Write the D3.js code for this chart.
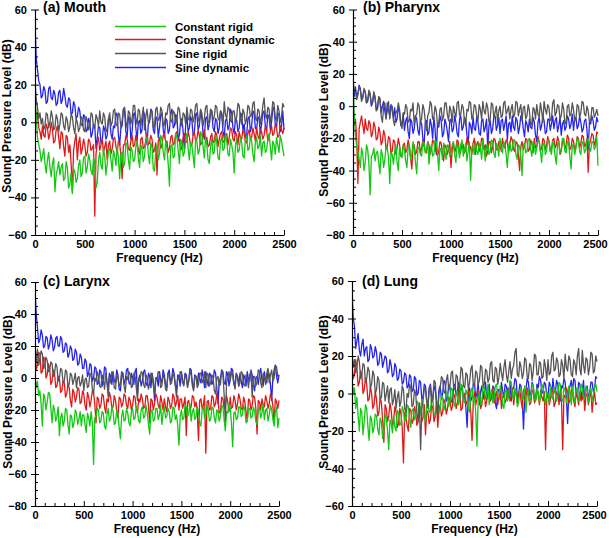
<!DOCTYPE html>
<html>
<head>
<meta charset="utf-8">
<script src="https://cdn.jsdelivr.net/npm/d3@7"></script>
<style>
  html, body { margin: 0; padding: 0; background: #fff; }
  svg { display: block; }
  text { font-family: "Liberation Sans", Arial, sans-serif; font-weight: bold; fill: #000; }
</style>
</head>
<body>
<svg id="chart" width="609" height="538"></svg>
<script>
// ---------------- DATA ----------------
const freqs = [
  0,12.5,25,37.5,50,62.5,75,87.5,100,112.5,125,137.5,150,162.5,175,187.5,200,212.5,225,237.5,
  250,262.5,275,287.5,300,312.5,325,337.5,350,362.5,375,387.5,400,412.5,425,437.5,450,462.5,475,487.5,
  500,512.5,525,537.5,550,562.5,575,587.5,600,612.5,625,637.5,650,662.5,675,687.5,700,712.5,725,737.5,
  750,762.5,775,787.5,800,812.5,825,837.5,850,862.5,875,887.5,900,912.5,925,937.5,950,962.5,975,987.5,
  1000,1012.5,1025,1037.5,1050,1062.5,1075,1087.5,1100,1112.5,1125,1137.5,1150,1162.5,1175,1187.5,1200,1212.5,1225,1237.5,
  1250,1262.5,1275,1287.5,1300,1312.5,1325,1337.5,1350,1362.5,1375,1387.5,1400,1412.5,1425,1437.5,1450,1462.5,1475,1487.5,
  1500,1512.5,1525,1537.5,1550,1562.5,1575,1587.5,1600,1612.5,1625,1637.5,1650,1662.5,1675,1687.5,1700,1712.5,1725,1737.5,
  1750,1762.5,1775,1787.5,1800,1812.5,1825,1837.5,1850,1862.5,1875,1887.5,1900,1912.5,1925,1937.5,1950,1962.5,1975,1987.5,
  2000,2012.5,2025,2037.5,2050,2062.5,2075,2087.5,2100,2112.5,2125,2137.5,2150,2162.5,2175,2187.5,2200,2212.5,2225,2237.5,
  2250,2262.5,2275,2287.5,2300,2312.5,2325,2337.5,2350,2362.5,2375,2387.5,2400,2412.5,2425,2437.5,2450,2462.5,2475,2487.5,
  2500];

const seriesNames = ["Constant rigid", "Constant dynamic", "Sine rigid", "Sine dynamic"];
const xTickValues = [0, 500, 1000, 1500, 2000, 2500];
const yTicksSym = [-60, -40, -20, 0, 20, 40, 60];
const yTicksLow = [-80, -60, -40, -20, 0, 20, 40, 60];

// (a) Mouth
const mouthConstRigid = [
  15,2,-8,-12,-15,-21,-18,-14,-22,-27,-20,-16,-24,-29,-22,-19,-37,-28,-25,-21,
  -28,-24,-22,-31,-30,-21,-24,-35,-33,-27,-38,-25,-26,-32,-30,-23,-20,-29,-27,-19,
  -18,-27,-24,-17,-20,-26,-28,-19,-22,-35,-32,-20,-16,-23,-25,-14,-18,-28,-22,-15,
  -14,-20,-26,-15,-18,-23,-13,-19,-30,-17,-16,-24,-22,-11,-12,-20,-25,-13,-15,-21,
  -20,-13,-10,-19,-24,-12,-14,-21,-18,-9,-8,-17,-22,-11,-13,-25,-26,-15,-12,-20,
  -17,-7,-9,-16,-20,-10,-14,-22,-34,-13,-12,-19,-18,-6,-8,-15,-22,-9,-11,-18,
  -16,-9,-6,-14,-20,-11,-12,-18,-24,-9,-10,-17,-15,-5,-7,-13,-19,-8,-12,-20,
  -22,-13,-9,-17,-16,-7,-11,-19,-20,-10,-8,-15,-14,-6,-10,-17,-18,-9,-12,-16,
  -27,-12,-9,-16,-15,-8,-11,-18,-19,-9,-7,-15,-14,-8,-10,-17,-21,-11,-8,-14,
  -13,-7,-18,-11,-10,-16,-15,-9,-6,-13,-20,-10,-12,-17,-8,-12,-16,-7,-10,-14,
  -18];
const mouthConstDyn = [
  12,0,5,-3,-5,-9,-2,-7,-8,-1,-3,-9,-6,0,-4,-11,-10,-4,-2,-8,
  -14,-5,-6,-13,-18,-7,-8,-16,-12,-22,-37,-15,-10,-6,-20,-11,-8,-17,-14,-9,
  -12,-18,-16,-9,-10,-15,-14,-12,-50,-17,-11,-8,-15,-12,-9,-16,-13,-10,-20,-12,
  -10,-17,-14,-9,-8,-13,-16,-10,-11,-18,-30,-12,-12,-7,-9,-14,-15,-10,-7,-13,
  -12,-7,-10,-15,-17,-9,-8,-14,-13,-10,-6,-12,-11,-7,-9,-16,-15,-11,-28,-10,
  -8,-14,-12,-7,-6,-11,-10,-16,-14,-8,-7,-12,-11,-6,-5,-10,-9,-15,-13,-8,
  -6,-11,-10,-5,-8,-13,-12,-7,-5,-10,-9,-4,-7,-12,-11,-6,-4,-10,-8,-13,
  -12,-8,-6,-11,-10,-5,-7,-13,-9,-6,-5,-10,-11,-7,-6,-12,-8,-3,-4,-9,
  -10,-5,-7,-12,-5,-8,-9,-4,-6,-10,-11,-6,-4,-9,-8,-3,-6,-10,-3,-7,
  -9,-4,-5,-9,-7,-2,-4,-10,-8,-5,-2,-7,-6,-1,-3,-8,-7,-2,-4,-6,
  -3];
const mouthSineRigid = [
  22,12,8,2,5,-1,2,-4,-2,5,4,-3,0,6,3,-4,-3,4,2,-5,
  -1,5,4,-2,-4,3,1,-5,-2,4,3,-3,-6,2,0,-5,-3,3,2,-4,
  -5,3,1,-4,-2,5,4,-3,-3,4,2,-2,6,0,-1,5,3,-5,-4,2,
  5,-2,0,6,7,-1,-2,5,4,-3,1,7,8,0,-3,6,5,-1,2,9,
  9,2,-1,7,6,-2,3,8,-4,3,7,0,1,6,5,-3,-2,7,8,1,
  2,8,6,-2,-1,5,4,9,10,1,0,6,5,-1,2,8,7,0,-2,5,
  4,-1,8,2,1,7,6,0,3,9,10,2,0,7,5,-2,2,8,9,1,
  -1,7,6,1,3,9,8,2,1,6,5,-2,11,4,2,8,7,1,0,6,
  6,0,3,10,9,2,-1,7,5,-1,2,9,8,3,4,10,11,2,1,7,
  6,-1,3,9,13,4,2,8,7,0,4,11,10,2,1,9,6,0,3,10,
  8];
const mouthSineDyn = [
  52,34,28,22,20,13,14,19,17,10,11,18,19,13,12,17,15,9,10,16,
  17,10,12,18,14,9,8,13,12,4,5,11,9,2,3,8,6,-1,-2,4,
  3,-5,-4,2,0,-8,-6,-1,-2,-14,-8,-2,-3,-11,-10,-2,-4,-9,-7,1,
  2,-6,-9,-2,-3,5,4,-7,-12,-3,-2,7,6,-5,-8,3,2,-9,-5,4,
  5,-3,-10,0,1,-6,-4,6,4,-5,-12,-1,0,7,6,-4,-6,3,2,-8,
  -3,4,5,-4,-8,2,1,-6,-4,5,7,-3,-2,4,3,-9,-7,1,2,-5,
  -15,-2,4,-5,-3,3,1,-7,-6,4,5,-4,-2,6,2,-6,-9,2,3,-4,
  -1,5,6,-3,-5,2,1,-6,-3,6,4,-5,-8,1,2,-4,-2,7,5,-3,
  -6,2,1,-5,-3,5,4,-4,-1,-8,-7,2,3,-5,-2,6,5,-3,-4,3,
  2,-6,-1,5,6,-2,-5,4,3,-4,0,7,8,-1,-3,5,4,-5,-2,6,
  -4];

// (b) Pharynx
const pharynxConstRigid = [
  18,-5,-18,-25,-28,-33,-38,-26,-30,-40,-35,-24,-27,-36,-55,-31,-30,-26,-34,-29,
  -28,-35,-42,-27,-30,-38,-33,-25,-26,-32,-48,-29,-30,-36,-28,-24,-35,-40,-25,-31,
  -32,-24,-27,-34,-38,-26,-24,-33,-30,-22,-26,-35,-42,-27,-25,-30,-31,-22,-23,-29,
  -28,-22,-36,-27,-24,-31,-30,-21,-22,-29,-40,-26,-27,-33,-23,-28,-33,-24,-25,-31,
  -29,-24,-22,-30,-35,-23,-26,-32,-24,-21,-31,-27,-23,-34,-28,-22,-46,-27,-25,-30,
  -22,-28,-30,-23,-26,-33,-21,-27,-34,-24,-24,-30,-28,-21,-22,-29,-32,-23,-25,-31,
  -20,-26,-29,-22,-24,-30,-38,-25,-22,-28,-27,-21,-21,-30,-33,-24,-25,-31,-43,-24,
  -23,-29,-28,-21,-20,-27,-31,-22,-24,-30,-26,-21,-22,-28,-35,-24,-23,-30,-28,-21,
  -21,-27,-30,-22,-24,-31,-36,-23,-22,-29,-27,-20,-20,-28,-29,-22,-23,-31,-39,-24,
  -24,-30,-26,-20,-21,-28,-30,-22,-23,-29,-27,-21,-20,-26,-28,-22,-22,-27,-25,-19,
  -37];
const pharynxConstDyn = [
  -5,-12,-8,-20,-48,-14,-10,-6,-12,-17,-8,-14,-15,-9,-11,-19,-17,-10,-13,-21,
  -20,-13,-16,-24,-22,-15,-18,-27,-25,-19,-20,-29,-28,-21,-22,-30,-26,-20,-24,-31,
  -30,-24,-23,-29,-27,-21,-25,-32,-39,-26,-24,-30,-28,-22,-22,-29,-26,-21,-23,-28,
  -29,-22,-24,-30,-27,-21,-22,-28,-25,-31,-28,-22,-23,-29,-34,-24,-25,-30,-27,-22,
  -38,-27,-23,-29,-26,-21,-22,-30,-28,-23,-24,-29,-27,-20,-21,-27,-25,-30,-23,-20,
  -30,-24,-22,-28,-26,-20,-20,-27,-24,-31,-28,-22,-22,-29,-25,-20,-21,-27,-27,-22,
  -23,-28,-20,-25,-26,-21,-22,-29,-24,-19,-21,-27,-28,-22,-23,-30,-40,-25,-22,-27,
  -25,-20,-21,-28,-27,-21,-23,-29,-20,-26,-25,-19,-22,-28,-26,-20,-21,-27,-24,-19,
  -22,-28,-27,-21,-20,-26,-24,-19,-22,-30,-28,-22,-21,-27,-24,-18,-20,-27,-26,-20,
  -22,-27,-25,-19,-20,-26,-23,-18,-19,-25,-24,-20,-41,-24,-21,-17,-18,-24,-22,-16,
  -17];
const pharynxSineRigid = [
  15,11,10,4,7,12,10,3,5,11,9,2,4,10,8,1,3,9,6,-3,
  -2,6,5,-6,-10,-1,2,-7,-3,3,-8,-2,0,-9,-12,-3,-4,2,-2,-11,
  -14,-4,-5,1,-1,-10,-9,-2,-3,2,-12,-6,-5,2,0,-10,-8,1,-2,-9,
  -15,-6,-4,3,1,-8,-7,0,-3,-12,-11,-2,-1,-9,-6,2,2,-5,-9,0,
  -3,-10,0,-4,-7,2,3,-6,-5,1,-1,-9,-12,-2,-3,3,2,-8,-6,1,
  0,-6,-9,1,-2,-8,3,-3,-5,2,-1,-10,-8,2,1,-7,-4,0,-10,-3,
  0,-7,-6,2,3,-5,-3,0,-8,-2,1,-7,-5,3,2,-6,-2,1,-9,-1,
  0,-8,-6,1,-3,-12,-11,-1,-2,-8,1,-5,-7,2,-3,-10,3,-2,-5,1,
  -1,-9,-8,2,4,-6,-4,1,0,-8,-6,2,-2,-11,-10,0,1,-6,-5,2,
  -2,-9,-8,1,0,-7,-4,3,2,-5,-6,0,-3,-10,-9,-1,-1,-7,-5,-2,
  -6];
const pharynxSineDyn = [
  10,6,12,5,8,13,11,4,6,10,9,2,3,8,7,0,2,7,5,-2,
  -1,5,4,-4,0,3,-3,-8,2,-2,-6,1,-2,-7,-1,-10,-8,0,-4,-12,
  -10,-5,-15,-9,-7,-16,-20,-8,-10,-17,-14,-6,-8,-15,-18,-9,-11,-20,-25,-10,
  -9,-18,-16,-8,-12,-20,-7,-14,-30,-11,-13,-6,-9,-19,-17,-8,-11,-16,-22,-9,
  -8,-16,-14,-6,-10,-17,-19,-8,-6,-15,-13,-7,-9,-18,-24,-10,-12,-17,-7,-14,
  -15,-7,-10,-17,-18,-9,-8,-16,-13,-8,-26,-12,-9,-17,-14,-6,-6,-15,-12,-7,
  -17,-9,-8,-15,-11,-6,-21,-11,-10,-16,-6,-13,-15,-7,-9,-17,-13,-6,-7,-14,
  -19,-9,-11,-16,-8,-13,-14,-7,-10,-18,-22,-10,-7,-15,-12,-6,-9,-17,-16,-8,
  -8,-15,-11,-6,-14,-9,-7,-16,-12,-7,-18,-11,-9,-15,-13,-6,-8,-14,-11,-5,
  -15,-8,-7,-14,-12,-6,-10,-16,-14,-9,-8,-15,-27,-10,-11,-6,-9,-15,-13,-7,
  -10];

// (c) Larynx
const larynxConstRigid = [
  0,-6,-2,-11,-8,-16,-30,-10,-12,-20,-15,-9,-10,-19,-28,-17,-20,-27,-24,-18,
  -36,-25,-22,-30,-27,-19,-20,-29,-35,-23,-24,-31,-28,-20,-22,-29,-26,-21,-30,-23,
  -23,-29,-34,-22,-25,-30,-21,-28,-54,-25,-24,-19,-20,-28,-27,-21,-22,-30,-32,-23,
  -19,-27,-25,-18,-21,-29,-28,-20,-23,-31,-38,-24,-20,-27,-26,-19,-22,-28,-30,-21,
  -19,-26,-25,-18,-21,-27,-28,-20,-18,-25,-24,-17,-22,-29,-35,-21,-20,-27,-26,-19,
  -19,-26,-23,-17,-29,-22,-18,-25,-24,-19,-21,-28,-27,-18,-19,-26,-23,-30,-42,-24,
  -20,-26,-25,-17,-18,-24,-22,-16,-27,-21,-19,-26,-24,-18,-21,-28,-30,-20,-18,-25,
  -23,-17,-20,-27,-26,-18,-19,-25,-28,-20,-21,-27,-24,-17,-18,-26,-33,-21,-22,-16,
  -19,-28,-43,-22,-21,-26,-25,-18,-18,-24,-23,-17,-20,-28,-27,-19,-19,-25,-24,-18,
  -21,-27,-29,-20,-18,-25,-22,-16,-26,-20,-19,-27,-23,-17,-20,-26,-30,-21,-18,-31,
  -25];
const larynxConstDyn = [
  17,5,8,16,15,3,4,13,12,0,2,9,6,-4,-2,5,3,-6,-5,1,
  0,-9,-8,-2,-3,-12,-10,-4,-6,-14,-18,-7,-9,-15,-12,-6,-7,-16,-15,-8,
  -10,-17,-20,-9,-12,-18,-14,-8,-9,-16,-28,-12,-13,-19,-17,-10,-11,-18,-22,-13,
  -15,-9,-12,-19,-18,-11,-14,-21,-25,-12,-13,-18,-16,-10,-11,-17,-19,-12,-14,-20,
  -17,-11,-12,-19,-22,-13,-15,-10,-13,-19,-18,-11,-11,-17,-28,-13,-14,-20,-16,-10,
  -12,-17,-19,-11,-15,-20,-13,-18,-21,-12,-14,-19,-17,-10,-12,-18,-15,-11,-20,-13,
  -13,-19,-16,-12,-36,-15,-14,-20,-18,-11,-12,-18,-15,-21,-39,-14,-13,-19,-17,-11,
  -47,-15,-14,-20,-19,-11,-12,-18,-16,-10,-14,-22,-21,-12,-13,-19,-17,-11,-15,-21,
  -12,-19,-18,-11,-14,-20,-16,-10,-13,-19,-20,-12,-15,-21,-27,-13,-14,-20,-17,-11,
  -12,-19,-35,-14,-15,-20,-13,-17,-18,-11,-14,-19,-16,-10,-12,-18,-28,-13,-15,-19,
  -14];
const larynxSineRigid = [
  20,10,18,8,12,17,15,6,8,13,11,4,5,10,9,1,3,9,7,-2,
  0,6,5,-3,-2,5,4,-5,-4,3,2,-4,-1,3,-6,0,1,-5,-3,2,
  -8,-1,0,-6,-5,3,2,-7,-10,0,-2,4,1,-5,-6,2,-1,-7,3,-3,
  -12,1,-3,4,2,-6,-7,2,0,-5,-4,4,3,-5,-9,1,-1,4,2,-6,
  -5,3,1,-6,-14,0,-2,4,3,-4,-6,2,0,-7,-3,3,2,-5,-10,0,
  -1,4,3,-6,-5,2,0,-7,-8,3,2,-4,-3,3,1,-5,-12,0,-1,4,
  3,-3,-5,2,0,-6,-2,4,2,-5,-8,1,1,-6,-4,3,3,-3,-1,4,
  -6,3,2,-5,-3,2,0,-8,-10,0,1,-5,-4,4,3,-10,-27,-3,0,4,
  -2,4,2,-4,-7,2,1,-5,-3,4,3,-4,-5,2,0,-6,2,4,-12,1,
  1,-5,-2,5,4,-3,-6,3,0,-4,3,6,-3,2,5,-2,0,8,7,1,
  2];
const larynxSineDyn = [
  55,40,32,22,24,30,27,19,20,26,25,18,21,27,24,17,19,25,26,20,
  20,26,24,16,17,22,21,13,15,20,18,11,12,18,16,8,9,15,13,6,
  6,12,10,1,3,9,8,-2,0,7,6,-4,-3,5,4,-5,-2,7,6,-3,
  -6,3,1,-4,4,-2,-3,5,2,-7,-8,1,3,-4,-1,5,6,-3,-4,3,
  0,-4,4,6,-10,-1,2,-5,-2,4,5,-3,-5,3,1,-6,3,-2,-14,0,
  0,-5,4,-1,-3,5,2,-4,-6,3,5,-2,-1,6,3,-4,-8,2,1,-5,
  4,-2,-4,3,2,-5,-2,6,5,-3,-7,2,1,-4,3,-1,-3,5,0,-6,
  4,-1,-5,3,2,-4,-2,5,3,-6,-16,-2,0,5,4,-3,-4,4,2,-5,
  -1,6,5,-4,-3,3,1,-5,3,-2,-6,2,0,-5,4,-1,-2,5,2,-4,
  -8,0,1,-4,3,6,-1,-5,4,-2,-3,5,2,-4,-14,0,5,8,1,-3,
  2];

// (d) Lung
const lungConstRigid = [
  8,0,3,-8,-2,-12,-20,-8,-10,-22,-15,-6,-8,-18,-25,-12,-14,-21,-18,-11,
  -12,-19,-22,-13,-15,-24,-19,-11,-13,-20,-30,-14,-16,-21,-12,-18,-20,-9,-10,-17,
  -16,-7,-9,-15,-14,-6,-7,-13,-18,-9,-8,-14,-12,-4,-5,-12,-10,-3,-6,-13,
  -15,-6,-4,-10,-9,-2,-3,-11,-12,-4,-5,-10,-8,-1,-2,-9,-6,1,0,-7,
  -4,3,2,-5,-7,0,1,-6,-3,5,4,-4,-5,2,0,-8,-10,1,3,-4,
  -2,-10,-28,-3,1,-6,-4,4,3,-3,-1,5,-6,-1,2,-5,-3,4,5,-2,
  -2,4,1,-6,-8,1,2,-4,-1,7,6,-2,-3,3,0,-7,-5,2,3,-3,
  -1,4,-10,-1,2,-5,-2,5,4,-3,-4,3,1,-5,-1,5,3,-2,-6,1,
  0,-5,4,-2,-3,3,1,-4,-1,6,5,-3,-4,3,2,-5,-2,4,0,-6,
  4,-2,-5,3,1,-4,-1,5,3,-2,-3,4,2,-5,0,3,-4,-1,3,5,
  1];
const lungConstDyn = [
  16,8,10,18,14,4,6,12,10,0,2,8,5,-4,-3,4,0,-8,-6,1,
  -3,-12,-10,-2,-5,-14,-26,-6,-8,-15,-12,-5,-9,-17,-14,-7,-10,-18,-16,-8,
  -11,-18,-37,-10,-12,-17,-20,-8,-9,-16,-14,-7,-10,-17,-15,-6,-8,-15,-13,-6,
  -22,-9,-10,-16,-14,-6,-8,-15,-12,-5,-18,-9,-6,-12,-10,-3,-5,-11,-8,-2,
  -3,-9,-7,0,-2,-8,-5,1,-1,-9,-8,-1,0,-6,-4,2,-2,-10,-25,-4,
  1,-6,-3,2,-1,-8,-6,1,0,-7,-4,3,2,-4,-2,3,-5,-1,1,-6,
  -1,2,-8,-2,0,-5,-3,3,2,-4,-2,3,-6,0,1,-5,-1,2,-4,-8,
  2,-4,-2,3,0,-6,-5,2,1,-5,-3,3,-1,-6,2,-2,-4,1,-30,-3,
  0,-6,-3,2,1,-7,-5,1,-1,-6,2,-3,-30,-1,-2,3,1,-5,-4,2,
  0,-4,-7,1,-2,-6,1,-4,-3,2,-9,-1,0,-6,-2,2,-10,-3,1,-6,
  -5];
const lungSineRigid = [
  22,14,18,11,14,20,17,8,10,16,15,6,8,14,12,3,5,12,10,0,
  2,9,7,-3,-2,6,5,-4,0,4,-5,2,3,-6,-3,2,-8,-2,1,-7,
  -4,4,2,-8,-10,0,-2,5,3,-7,-6,2,0,-10,-15,-5,-30,-8,-4,3,
  2,-4,-8,2,4,-5,-3,7,6,-6,-12,0,3,9,8,1,0,7,10,2,
  4,11,12,3,2,10,9,1,5,14,13,4,3,11,10,2,6,13,15,5,
  4,12,11,5,7,15,14,4,5,13,12,6,8,16,17,7,6,14,13,5,
  9,16,11,7,14,18,10,6,12,17,8,13,15,22,24,10,9,17,14,8,
  11,19,18,9,8,16,15,7,12,21,20,10,10,17,16,8,9,18,14,7,
  18,10,11,20,22,12,13,19,17,9,10,18,15,8,21,14,12,20,18,10,
  9,18,16,10,20,24,13,10,23,15,11,19,18,10,14,22,21,11,12,20,
  17];
const lungSineDyn = [
  55,40,36,24,28,32,23,20,26,29,20,24,25,17,18,26,24,19,20,25,
  22,15,16,22,21,14,17,20,19,11,12,18,15,9,10,16,14,7,8,13,
  12,5,6,11,10,3,4,10,9,1,2,9,8,-1,0,7,6,-3,-2,5,
  4,-4,-6,3,5,-2,-3,4,2,-5,-8,2,4,-3,0,7,6,-4,-2,5,
  3,-4,-5,4,5,-1,1,6,-3,2,4,-4,0,-8,-18,1,3,-4,-2,5,
  5,-2,0,6,-6,1,4,-3,1,6,-3,2,5,-4,-1,4,3,-5,-8,2,
  2,-3,6,1,-2,5,4,-3,0,6,-4,2,3,8,7,-2,-1,5,4,-3,
  -19,-2,2,8,6,-1,0,6,4,-4,-3,5,3,9,7,0,1,6,5,-2,
  -2,6,4,-1,8,2,0,7,5,-3,-4,4,3,8,6,-2,-16,1,4,7,
  1,8,7,-1,-2,6,5,-3,2,7,-6,3,4,-2,0,6,6,1,3,9,
  8];

// ---------------- STYLE / LAYOUT ----------------
const colors = { "Constant rigid": "#12c812", "Constant dynamic": "#e01818", "Sine rigid": "#555555", "Sine dynamic": "#2424f0" };
const drawOrder = ["Sine dynamic", "Constant dynamic", "Constant rigid", "Sine rigid"];
const FONT = '"Liberation Sans", Arial, sans-serif';

const panels = [
  { title: "(a) Mouth", x0: 35, x1: 284, y0: 9.5, y1: 235, yDomain: [-60, 60], yTicks: yTicksSym,
    tx: 43, ty: 11.5, ytx: 11, yty: 116, xty: 262, legend: true, right: false,
    data: { "Constant rigid": mouthConstRigid, "Constant dynamic": mouthConstDyn, "Sine rigid": mouthSineRigid, "Sine dynamic": mouthSineDyn } },
  { title: "(b) Pharynx", x0: 353, x1: 598, y0: 9.5, y1: 235, yDomain: [-80, 60], yTicks: yTicksLow,
    tx: 363, ty: 11.5, ytx: 328, yty: 120, xty: 262, legend: false, right: true,
    data: { "Constant rigid": pharynxConstRigid, "Constant dynamic": pharynxConstDyn, "Sine rigid": pharynxSineRigid, "Sine dynamic": pharynxSineDyn } },
  { title: "(c) Larynx", x0: 35, x1: 279, y0: 282, y1: 506, yDomain: [-80, 60], yTicks: yTicksLow,
    tx: 43, ty: 286, ytx: 12, yty: 392, xty: 533, legend: false, right: false,
    data: { "Constant rigid": larynxConstRigid, "Constant dynamic": larynxConstDyn, "Sine rigid": larynxSineRigid, "Sine dynamic": larynxSineDyn } },
  { title: "(d) Lung", x0: 352, x1: 597, y0: 281, y1: 506, yDomain: [-60, 60], yTicks: yTicksSym,
    tx: 362, ty: 286, ytx: 328, yty: 392, xty: 533, legend: false, right: true,
    data: { "Constant rigid": lungConstRigid, "Constant dynamic": lungConstDyn, "Sine rigid": lungSineRigid, "Sine dynamic": lungSineDyn } }
];

const svg = d3.select("#chart");

panels.forEach((p, pi) => {
  const x = d3.scaleLinear().domain([0, 2500]).range([p.x0, p.x1]);
  const y = d3.scaleLinear().domain(p.yDomain).range([p.y1, p.y0]);
  const g = svg.append("g");

  const clipId = "clip" + pi;
  g.append("clipPath").attr("id", clipId).append("rect")
    .attr("x", p.x0).attr("y", p.y0 - 2).attr("width", p.x1 - p.x0 + 1).attr("height", p.y1 - p.y0 + 2);

  const line = d3.line()
    .defined((d, i) => i < freqs.length && d != null)
    .x((d, i) => x(freqs[i])).y(d => y(d));
  const lines = g.append("g").attr("clip-path", `url(#${clipId})`);
  drawOrder.forEach(name => {
    lines.append("path").datum(p.data[name])
      .attr("d", line).attr("fill", "none")
      .attr("stroke", colors[name]).attr("stroke-width", 1.3)
      .attr("stroke-linejoin", "round");
  });

  // x minor ticks
  const xMinor = d3.range(0, 2501, 100).filter(v => v % 500 !== 0);
  g.append("g").attr("transform", `translate(0,${p.y1})`)
    .call(d3.axisBottom(x).tickValues(xMinor).tickSizeInner(-3).tickSizeOuter(0).tickFormat(""))
    .call(a => a.select(".domain").remove());
  // x major
  const xa = g.append("g").attr("transform", `translate(0,${p.y1})`)
    .call(d3.axisBottom(x).tickValues(xTickValues).tickSizeInner(-5).tickSizeOuter(0).tickPadding(5).tickFormat(d3.format("d")));
  xa.selectAll("text").style("font-size", "11px").style("font-family", FONT).style("font-weight", "bold");
  if (p.right) xa.selectAll("text").filter(d => d === 2500).attr("dx", -3);

  // y minor
  const yMinor = d3.range(p.yDomain[0], p.yDomain[1] + 1, 5).filter(v => v % 20 !== 0);
  g.append("g").attr("transform", `translate(${p.x0},0)`)
    .call(d3.axisLeft(y).tickValues(yMinor).tickSizeInner(-3).tickSizeOuter(0).tickFormat(""))
    .call(a => a.select(".domain").remove());
  // y major
  const ya = g.append("g").attr("transform", `translate(${p.x0},0)`)
    .call(d3.axisLeft(y).tickValues(p.yTicks).tickSizeInner(4).tickSizeOuter(0).tickPadding(4));
  ya.selectAll(".tick line").attr("x1", 4);
  ya.selectAll("text").style("font-size", "11px").style("font-family", FONT).style("font-weight", "bold");

  g.selectAll(".domain").attr("stroke", "#000").attr("stroke-width", 1.2);
  g.selectAll(".tick line").attr("stroke", "#000");

  // titles
  g.append("text").attr("x", p.tx).attr("y", p.ty).style("font-size", "14px").text(p.title);
  g.append("text").attr("transform", `translate(${p.ytx},${p.yty}) rotate(-90)`)
    .attr("text-anchor", "middle").style("font-size", "12px").text("Sound Pressure Level (dB)");
  g.append("text").attr("x", (p.x0 + p.x1) / 2).attr("y", p.xty)
    .attr("text-anchor", "middle").style("font-size", "12px").text("Frequency (Hz)");

  if (p.legend) {
    const lg = g.append("g");
    const legY = [26.5, 39.5, 53.5, 67.5];
    seriesNames.forEach((name, i) => {
      lg.append("line").attr("x1", 115).attr("x2", 166).attr("y1", legY[i]).attr("y2", legY[i])
        .attr("stroke", colors[name]).attr("stroke-width", 1.4);
      lg.append("text").attr("x", 175).attr("y", legY[i] + 4).style("font-size", "11.5px").text(name);
    });
  }
});
</script>
</body>
</html>
